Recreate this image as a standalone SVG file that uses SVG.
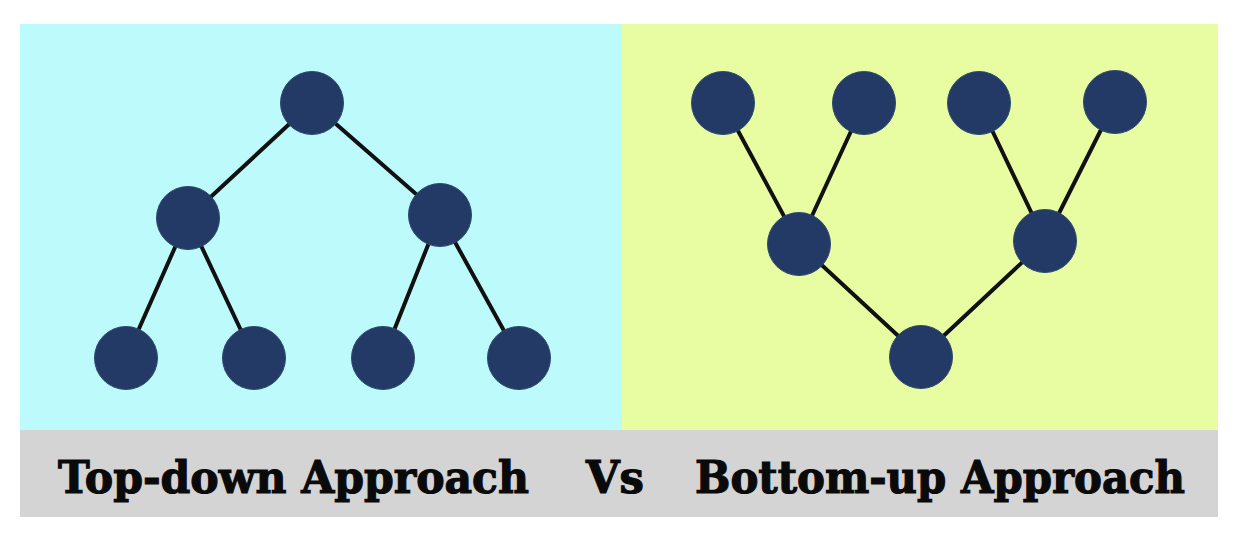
<svg xmlns="http://www.w3.org/2000/svg" width="1236" height="534" viewBox="0 0 1236 534">
<style>
.node{fill:#233a66;stroke:#2c4a6e;stroke-width:1}
.edge{stroke:#111111;stroke-width:4;stroke-linecap:round}
.label{font-family:"DejaVu Serif","Liberation Serif",serif;font-weight:bold;font-size:45px;fill:#0a0a0a;stroke:#0a0a0a;stroke-width:1.2}
</style>
<rect x="0" y="0" width="1236" height="534" fill="#ffffff"/>
<rect id="panel-left" x="20" y="24" width="602" height="406" fill="#bdfafb"/>
<rect id="panel-right" x="622" y="24" width="596" height="406" fill="#e8fca2"/>
<rect id="caption-bar" x="20" y="430" width="1198" height="87" fill="#d4d4d4"/>
<g id="connectors">
<line class="edge" x1="312" y1="103" x2="188" y2="218"/>
<line class="edge" x1="312" y1="103" x2="440" y2="215"/>
<line class="edge" x1="188" y1="218" x2="126" y2="358"/>
<line class="edge" x1="188" y1="218" x2="254" y2="358"/>
<line class="edge" x1="440" y1="215" x2="383" y2="358"/>
<line class="edge" x1="440" y1="215" x2="519" y2="358"/>
<line class="edge" x1="723" y1="103" x2="799" y2="244"/>
<line class="edge" x1="864" y1="103" x2="799" y2="244"/>
<line class="edge" x1="979" y1="103" x2="1045" y2="241"/>
<line class="edge" x1="1115" y1="102" x2="1045" y2="241"/>
<line class="edge" x1="799" y1="244" x2="921" y2="357"/>
<line class="edge" x1="1045" y1="241" x2="921" y2="357"/>
</g>
<g id="td-root"><circle class="node" cx="312" cy="103" r="31.5"/></g>
<g id="td-left"><circle class="node" cx="188" cy="218" r="31.5"/></g>
<g id="td-right"><circle class="node" cx="440" cy="215" r="31.5"/></g>
<g id="td-leaf1"><circle class="node" cx="126" cy="358" r="31.5"/></g>
<g id="td-leaf2"><circle class="node" cx="254" cy="358" r="31.5"/></g>
<g id="td-leaf3"><circle class="node" cx="383" cy="358" r="31.5"/></g>
<g id="td-leaf4"><circle class="node" cx="519" cy="358" r="31.5"/></g>
<g id="bu-top1"><circle class="node" cx="723" cy="103" r="31.5"/></g>
<g id="bu-top2"><circle class="node" cx="864" cy="103" r="31.5"/></g>
<g id="bu-top3"><circle class="node" cx="979" cy="103" r="31.5"/></g>
<g id="bu-top4"><circle class="node" cx="1115" cy="102" r="31.5"/></g>
<g id="bu-mid1"><circle class="node" cx="799" cy="244" r="31.5"/></g>
<g id="bu-mid2"><circle class="node" cx="1045" cy="241" r="31.5"/></g>
<g id="bu-bottom"><circle class="node" cx="921" cy="357" r="31.5"/></g>
<g id="captions">
<text class="label" x="58" y="493" textLength="471" lengthAdjust="spacingAndGlyphs">Top-down Approach</text>
<text class="label" x="586" y="493" textLength="58" lengthAdjust="spacingAndGlyphs">Vs</text>
<text class="label" x="695" y="493" textLength="490" lengthAdjust="spacingAndGlyphs">Bottom-up Approach</text>
</g>
</svg>
